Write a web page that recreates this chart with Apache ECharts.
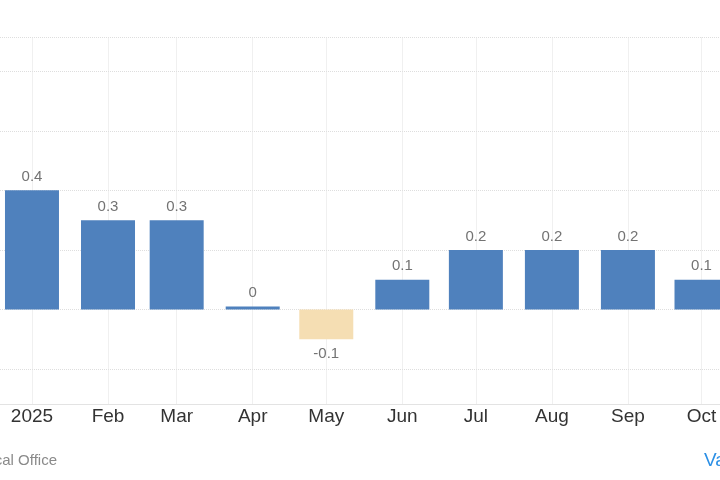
<!DOCTYPE html>
<html>
<head>
<meta charset="utf-8">
<script src="https://cdn.jsdelivr.net/npm/echarts@6/dist/echarts.min.js"></script>
<style>
html,body{margin:0;padding:0;background:#fff;}
#chart{width:720px;height:480px;}
</style>
</head>
<body>
<div id="chart"></div>
<script>
// Month dates (positioned on a linear time scale), tick labels and values
var dates = ['2025-01-01','2025-02-01','2025-03-01','2025-04-01','2025-05-01','2025-06-01','2025-07-01','2025-08-01','2025-09-01','2025-10-01'];
var tickLabels = ['2025','Feb','Mar','Apr','May','Jun','Jul','Aug','Sep','Oct'];
var values = [0.4, 0.3, 0.3, 0, -0.1, 0.1, 0.2, 0.2, 0.2, 0.1];

var FONT = '"Liberation Sans", Arial, sans-serif';
var POS_COLOR = '#4f81bd';
var NEG_COLOR = '#f5deb3';

function toTime(s){
  var p = s.split('-');
  return Date.UTC(+p[0], +p[1]-1, +p[2]);
}
var tickTimes = dates.map(toTime);

var barData = dates.map(function(d, i){
  var v = values[i];
  return {
    value: [toTime(d), v],
    itemStyle: { color: v < 0 ? NEG_COLOR : POS_COLOR },
    label: { position: v < 0 ? 'bottom' : 'top', distance: v < 0 ? 7 : 6 }
  };
});

var chart = echarts.init(document.getElementById('chart'), null, {renderer:'canvas'});
chart.setOption({
  animation: false,
  backgroundColor: '#ffffff',
  grid: { left: 0, right: 0, top: 37.5, bottom: 76, containLabel: false },
  xAxis: {
    type: 'value',
    min: Date.UTC(2024, 11, 18, 23),
    max: Date.UTC(2025, 9, 8, 13),
    axisLine: { show: true, onZero: false, lineStyle: { color: '#e3e3e3', width: 1 } },
    axisTick: { show: false, customValues: tickTimes },
    axisLabel: {
      customValues: tickTimes,
      color: '#333333',
      fontFamily: FONT,
      fontSize: 19,
      margin: 3,
      hideOverlap: false,
      showMinLabel: true,
      showMaxLabel: true,
      formatter: function(val){
        var idx = tickTimes.indexOf(val);
        return idx >= 0 ? tickLabels[idx] : '';
      }
    },
    splitLine: { show: true, lineStyle: { color: '#e2e2e2', type: 'dotted', width: 1 } }
  },
  yAxis: {
    type: 'value',
    min: -0.317,
    max: 0.913,
    splitNumber: 5,
    minInterval: 0.2,
    maxInterval: 0.2,
    axisLine: { show: false },
    axisTick: { show: false },
    axisLabel: { show: false },
    splitLine: { show: true, lineStyle: { color: '#dedede', type: 'dotted', width: 1 } }
  },
  series: [{
    type: 'bar',
    data: barData,
    barWidth: 54,
    barMinHeight: 3,
    label: {
      show: true,
      color: '#737373',
      fontFamily: FONT,
      fontSize: 15,
      formatter: function(p){ return String(p.value[1]); }
    }
  }],
  graphic: [
    {
      type: 'text', right: 663, top: 453,
      style: { text: 'Source: Federal Statistical Office', fill: '#8a8a8a', font: '15px ' + FONT, textAlign: 'right' }
    },
    {
      type: 'text', left: 704, top: 451,
      style: { text: 'Values', fill: '#2b8fe5', font: '19px ' + FONT }
    }
  ]
});
</script>
</body>
</html>
